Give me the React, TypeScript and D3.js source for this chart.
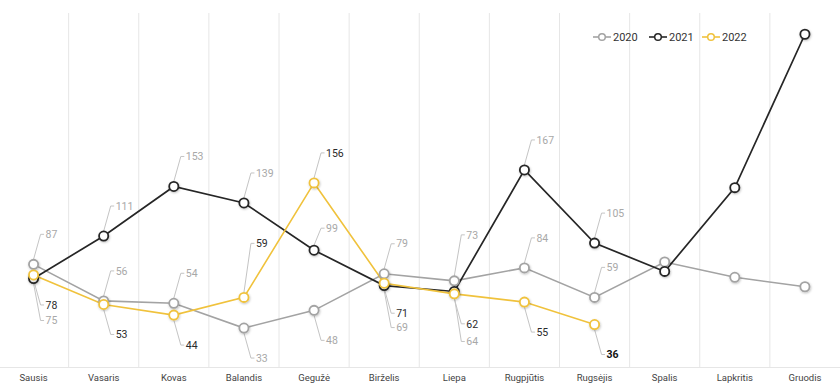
import * as d3 from 'd3';
import React from 'react';

const months = ["Sausis", "Vasaris", "Kovas", "Balandis", "Gegužė", "Birželis", "Liepa", "Rugpjūtis", "Rugsėjis", "Spalis", "Lapkritis", "Gruodis"];
const years = ["2020", "2021", "2022"];
const values2020 = [87, 56, 54, 33, 48, 79, 73, 84, 59, 89, 76, 68];
const values2021 = [75, 111, 153, 139, 99, 69, 64, 167, 105, 81, 152, 282];
const values2022 = [78, 53, 44, 59, 156, 71, 62, 55, 36];
const yTicks = [0, 300];

const colors = ["#a3a3a3", "#262626", "#f0c23c"];
const labelColors = ["#a8a8a8", "#a8a8a8", "#2b2b2b"];

const width = 840;
const height = 392;
const margin = { top: 13, right: 0, bottom: 25, left: -1.5 };
const font = "Roboto, 'Noto Sans', sans-serif";

type Box = { x0: number; x1: number; y0: number; y1: number };
type Label = { x: number; y: number; ly: number; text: string; color: string; bold: boolean };

const App = () => {
  const series = [values2020, values2021, values2022];
  const labelCount = values2022.length;

  const xScale = d3.scaleBand().domain(months).range([margin.left, width - margin.right]);
  const cx = (m: string) => (xScale(m) ?? 0) + xScale.bandwidth() / 2;
  const yScale = d3.scaleLinear().domain([yTicks[0], yTicks[1]]).range([height - margin.bottom, margin.top]);

  const line = d3.line<number>()
    .x((_, i) => cx(months[i]))
    .y(d => yScale(d));

  // label placement: try offsets above / below, score against lines, markers, labels
  const pts = series.map(vals => vals.map((v, i) => [cx(months[i]), yScale(v)]));
  const lineHits = (b: Box) => {
    let n = 0;
    pts.forEach(p => {
      for (let k = 0; k < p.length - 1; k++) {
        const [ax, ay] = p[k];
        const [bx, by] = p[k + 1];
        const steps = Math.ceil(Math.hypot(bx - ax, by - ay));
        for (let t = 0; t <= steps; t++) {
          const x = ax + (bx - ax) * t / steps;
          const y = ay + (by - ay) * t / steps;
          if (x > b.x0 && x < b.x1 && y > b.y0 && y < b.y1) { n++; break; }
        }
      }
    });
    return n;
  };
  const markerHits = (b: Box) => {
    let n = 0;
    pts.forEach(p => p.forEach(([x, y]) => {
      if (x + 6 > b.x0 && x - 6 < b.x1 && y + 6 > b.y0 && y - 6 < b.y1) n++;
    }));
    return n;
  };
  const yAt = (p: number[][], x: number) => {
    for (let k = 0; k < p.length - 1; k++) {
      if (x >= p[k][0] && x <= p[k + 1][0]) {
        const t = (x - p[k][0]) / (p[k + 1][0] - p[k][0]);
        return p[k][1] + (p[k + 1][1] - p[k][1]) * t;
      }
    }
    return NaN;
  };
  const overlap = (a: Box, b: Box) => a.x0 < b.x1 && a.x1 > b.x0 && a.y0 < b.y1 && a.y1 > b.y0;

  const placed: Box[] = [];
  const labels: Label[] = [];
  const offsets = [22, 26, 30, 34, 38, 42, 46, 50, 54, 58];
  for (let i = 0; i < labelCount; i++) {
    const lowest = d3.min(series, vals => vals[i]) ?? 0;
    [2, 1, 0].forEach(s => {
      const v = series[s][i];
      const [px, py] = pts[s][i];
      const text = String(v);
      const w = text.length * 5.8 + 2;
      const low = v - lowest <= 4;
      let best = { cost: Infinity, ly: py };
      offsets.forEach(o => {
        [-1, 1].forEach(dir => {
          const ly = py + dir * o;
          const b = { x0: px + 9, x1: px + 13 + w, y0: ly - 7, y1: ly + 7 };
          let cost = Math.abs(o - 32) * 0.25;
          if (low) cost += dir < 0 ? 8 : 0;
          else cost += dir > 0 ? 4 : 0;
          cost += lineHits(b) * 20 + markerHits(b) * 40;
          pts.forEach((p, s2) => {
            if (s2 === s) return;
            const yy = yAt(p, px + 4);
            if (!isNaN(yy) && (yy - py) * dir > 0 && (yy - ly) * dir < 0) cost += 6;
          });
          placed.forEach(q => { if (overlap(b, q)) cost += 500; });
          if (b.y0 < margin.top || b.y1 > height - margin.bottom + 4) cost += 500;
          if (cost < best.cost) best = { cost, ly };
        });
      });
      placed.push({ x0: px + 9, x1: px + 13 + w, y0: best.ly - 7, y1: best.ly + 7 });
      labels.push({
        x: px, y: py, ly: best.ly, text,
        color: labelColors[s],
        bold: s === 2 && i === labelCount - 1,
      });
    });
  }

  const legendX = [593, 649, 702];

  return (
    <svg width={width} height={height} style={{ position: 'absolute', left: 0, top: 0, background: '#fff' }}>
      <defs>
        <filter id="shadow" x="-50%" y="-50%" width="200%" height="200%">
          <feDropShadow dx="0.6" dy="1" stdDeviation="0.9" floodColor="#000" floodOpacity="0.25" />
        </filter>
      </defs>
      {/* vertical grid */}
      {months.slice(1).map(m => (
        <line key={m} x1={xScale(m)} x2={xScale(m)} y1={yScale(yTicks[1])} y2={yScale(0)} stroke="#e6e6e6" strokeWidth={1} />
      ))}
      <line x1={0} x2={width} y1={yScale(0) + 0.5} y2={yScale(0) + 0.5} stroke="#e6e6e6" />
      {months.map(m => (
        <text key={m} x={cx(m)} y={yScale(0) + 14} textAnchor="middle" fontFamily={font} fontSize={9.5} fill="#444">{m}</text>
      ))}
      {/* leader lines + labels */}
      {labels.map((l, k) => {
        const up = l.ly < l.y;
        const ex = l.x + 7;
        return (
          <g key={k}>
            <polyline
              points={`${l.x},${l.y + (up ? -5 : 5)} ${ex},${l.ly} ${ex + 3.5},${l.ly}`}
              fill="none" stroke="#c4c4c4" strokeWidth={1}
            />
            <text x={ex + 5} y={l.ly} dy="0.35em" fontFamily={font} fontSize={10.5}
              fontWeight={l.bold ? 700 : 400} fill={l.bold ? "#111" : l.color}>{l.text}</text>
          </g>
        );
      })}
      {/* lines */}
      {series.map((vals, s) => (
        <path key={years[s]} d={line(vals) ?? ''} fill="none" stroke={colors[s]} strokeWidth={s === 1 ? 1.7 : 1.6} />
      ))}
      {series.map((vals, s) => (
        <g key={years[s]} filter="url(#shadow)">
          {vals.map((v, i) => (
            <circle key={i} cx={cx(months[i])} cy={yScale(v)} r={4.6} fill="#fff" stroke={colors[s]} strokeWidth={1.8} />
          ))}
        </g>
      ))}
      {/* legend */}
      {years.map((y, s) => (
        <g key={y} transform={`translate(${legendX[s]}, 37)`}>
          <line x1={0} x2={18} y1={0} y2={0} stroke={colors[s]} strokeWidth={1.6} />
          <circle cx={9} cy={0} r={3.3} fill="#fff" stroke={colors[s]} strokeWidth={1.5} />
          <text x={20} y={0} dy="0.35em" fontFamily={font} fontSize={11} fill="#333">{y}</text>
        </g>
      ))}
    </svg>
  );
};

export default App;
